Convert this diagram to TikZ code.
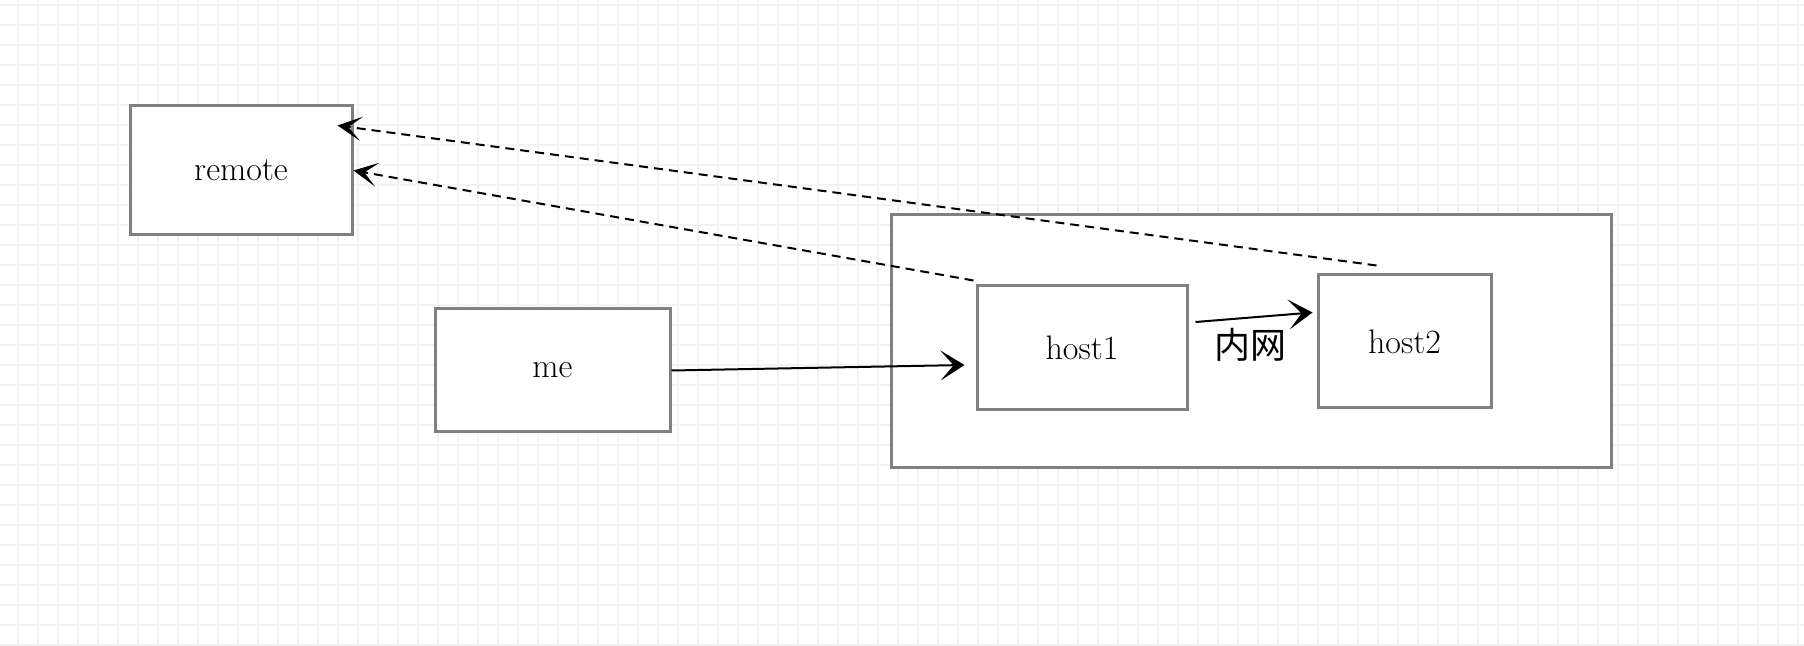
\documentclass[tikz,border=0pt]{standalone}
\usepackage{fontspec}
\newfontfamily\cjkfont{Noto Sans CJK SC}
\usetikzlibrary{arrows.meta,calc}

\tikzset{every picture/.style={line width=0.75pt}}
\tikzset{
  gridline/.style={black!5, line width=1.2pt},
  hostbox/.style={draw=black!50, line width=1.5pt, fill=white, inner sep=0pt, font=\fontsize{17pt}{20pt}\selectfont},
  openarrow/.style={-{Stealth[length=12pt,width=15pt,inset=6.5pt]}, line width=1pt},
  dasharrow/.style={-{Stealth[length=12pt,width=12pt,inset=6.5pt]}, line width=1pt, dash pattern={on 4.5pt off 3pt}},
}

\begin{document}
\begin{tikzpicture}[x=0.5pt,y=0.5pt,yscale=-1,xscale=1]
	\useasboundingbox (0,0) rectangle (1804,646);
	\fill[white] (0,0) rectangle (1804,646);
	
	%Grid
	\foreach \gx in {18,38,...,1798} \draw[gridline] (\gx,0) -- (\gx,646);
	\foreach \gy in {5,25,...,645} \draw[gridline] (0,\gy) -- (1804,\gy);
	
	%Shape: Rectangle [id:lan]
	\node[hostbox, minimum width=360pt, minimum height=126pt] (lan) at (1251,341) {};
	%Shape: Rectangle [id:remote]
	\node[hostbox, minimum width=111pt, minimum height=64.5pt] (remote) at (241,170.5) {remote};
	%Shape: Rectangle [id:me]
	\node[hostbox, minimum width=117.5pt, minimum height=61.5pt] (me) at (552.5,370.5) {me};
	%Shape: Rectangle [id:host1]
	\node[hostbox, minimum width=105pt, minimum height=62pt] (host1) at (1082,348) {host1};
	%Shape: Rectangle [id:host2]
	\node[hostbox, minimum width=86.5pt, minimum height=66.5pt] (host2) at (1404.5,341.5) {host2};
	
	% Text Node
	\node[inner sep=0pt, font=\cjkfont\fontsize{18pt}{20pt}\selectfont] (inner) at (1250,345) {内网};
	
	%Connector points
	\coordinate (h1in) at ($(host1.west)+(-11,17)$);
	\coordinate (h1out) at ($(host1.east)+(7,-26)$);
	\coordinate (h2in) at ($(host2.west)+(-4,-29)$);
	\coordinate (h1top) at ($(host1.north west)+(-2,-4)$);
	\coordinate (h2top) at ($(host2.north)+(-28,-8)$);
	\coordinate (rin) at ($(remote.north east)+(-16,21)$);
	
	%Straight Lines
	\draw[openarrow] (me.east) -- (h1in);
	\draw[openarrow] (h1out) -- (h2in);
	%Dashed Lines
	\draw[dasharrow] (h1top) -- (remote.east);
	\draw[dasharrow] (h2top) -- (rin);
	
\end{tikzpicture}
\end{document}
